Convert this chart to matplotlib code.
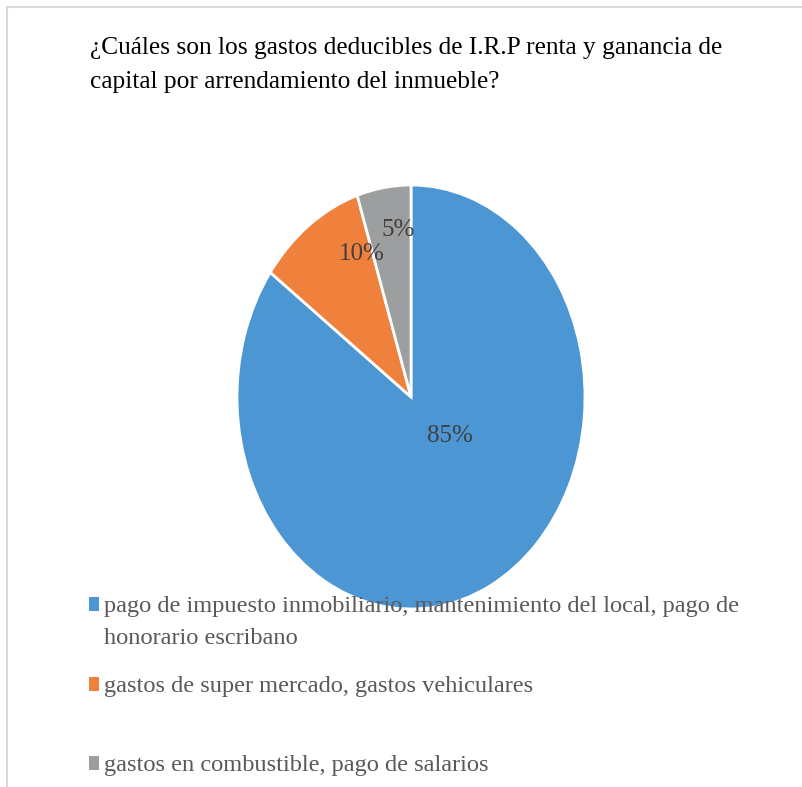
import matplotlib
matplotlib.use("Agg")
import matplotlib.pyplot as plt
from matplotlib.patches import Rectangle
from matplotlib.lines import Line2D

plt.rcParams["font.family"] = ["Liberation Serif", "DejaVu Serif"]

# datos del gráfico
categorias = [
    ["pago de impuesto inmobiliario, mantenimiento del local, pago de",
     "honorario escribano"],
    ["gastos de super mercado, gastos vehiculares"],
    ["gastos en combustible, pago de salarios"],
]
porcentajes = [85, 10, 5]
colores = ["#4C97D3", "#F0813C", "#9C9E9F"]

titulo = ["¿Cuáles son los gastos deducibles de I.R.P renta y ganancia de",
          "capital por arrendamiento del inmueble?"]

W, H = 802, 787
fig = plt.figure(figsize=(W / 100, H / 100), dpi=100)
fig.patch.set_facecolor("white")


def fx(px):
    return px / W


def fy(py):
    return 1 - py / H


# recuadro del área del gráfico
fig.add_artist(Line2D([fx(7), 1], [fy(7), fy(7)], color="#D9D9D9", lw=1.5))
fig.add_artist(Line2D([fx(7), fx(7)], [fy(7), 0], color="#D9D9D9", lw=1.5))

# título en dos líneas
fig.text(fx(90), fy(54), titulo[0], fontsize=18.3, color="black", va="baseline")
fig.text(fx(90), fy(88), titulo[1], fontsize=18.3, color="black", va="baseline")

# torta (algo achatada horizontalmente)
cx, cy, rx, ry = 411, 397, 174, 212
ax = fig.add_axes([fx(cx - rx), fy(cy + ry), 2 * rx / W, 2 * ry / H])
wedges, textos, autotextos = ax.pie(
    porcentajes, colors=colores, startangle=90, counterclock=False,
    autopct="%d%%", wedgeprops=dict(edgecolor="white", linewidth=2),
    textprops=dict(fontsize=18, color="#404040"))
ax.set_aspect("auto")
ax.set_xlim(-1, 1)
ax.set_ylim(-1, 1)

pos_etiquetas = [(0.224, -0.184), (-0.28, 0.675), (-0.075, 0.79)]
for t, p in zip(autotextos, pos_etiquetas):
    t.set_position(p)
    t.set_ha("center")
    t.set_va("center")

# leyenda
legend_y = [612, 692, 771]
for lineas, col, yb in zip(categorias, colores, legend_y):
    fig.add_artist(Rectangle((fx(89), fy(yb - 1)), 10 / W, 14 / H,
                             transform=fig.transFigure, facecolor=col,
                             edgecolor="none"))
    for i, linea in enumerate(lineas):
        fig.text(fx(104), fy(yb + 32 * i), linea, fontsize=17.6,
                 color="#595959", va="baseline")

fig.savefig("out.png", dpi=100)
